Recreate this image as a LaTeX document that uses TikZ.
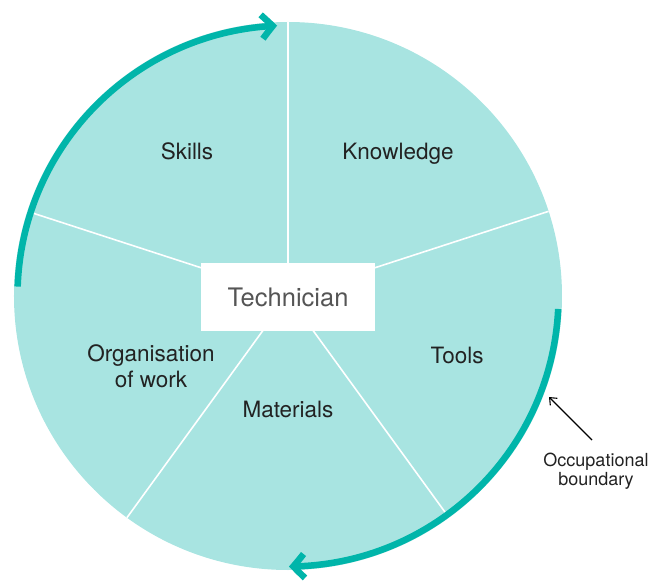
\documentclass[tikz,border=0pt]{standalone}
\usepackage{fontspec}
\setmainfont{TeX Gyre Heros}
\usetikzlibrary{arrows.meta,bending}
\definecolor{wheelfill}{RGB}{168,228,225}
\definecolor{boundteal}{RGB}{0,181,170}
\definecolor{labelgray}{RGB}{34,34,34}
\definecolor{centregray}{RGB}{85,85,85}
\begin{document}
\begin{tikzpicture}[x=1pt,y=1pt,
  divider/.style={draw=white,line width=1.6pt},
  sector/.style={text=labelgray,font=\fontsize{22.5}{26}\selectfont,align=center,inner sep=0pt},
  boundary/.style={draw=boundteal,line width=6.5pt,
    -{Straight Barb[length=11pt,width=24pt,bend]}},
  pointer/.style={draw=black,line width=1.1pt,-{Straight Barb[length=6pt,width=10pt]}}]
\useasboundingbox (-288,-288) rectangle (366,296);
% the wheel
\fill[wheelfill] (0,0) circle[radius=274];
\coordinate (c) at (0,0);
\foreach \a/\n in {90/a,18/b,-54/c2,-126/d,162/e}{
  \coordinate (r\n) at (\a:274);
  \draw[divider] (c) -- (r\n);
}
% occupational boundary arcs
\draw[boundary] (178:270.5) arc[start angle=178,end angle=92.3,radius=270.5];
\draw[boundary] (-2.75:270.5) arc[start angle=-2.75,end angle=-89.8,radius=270.5];
% centre box
\node[fill=white,minimum width=174pt,minimum height=68pt,inner sep=0pt,
  text=centregray,font=\fontsize{25.5}{30}\selectfont] (tech) at (0,-1) {Technician};
% sector labels, placed by their baselines
\node[sector,anchor=base] (skills) at (-101,136) {Skills};
\node[sector,anchor=base] (know) at (110,136) {Knowledge};
\node[sector,anchor=base] (tools) at (169,-67) {Tools};
\node[sector,anchor=base] (mat) at (0,-121) {Materials};
\node[sector] (org) at (-137,-70) {Organisation\\of work};
% annotation
\node[text=labelgray,font=\fontsize{18}{19.5}\selectfont,align=center,inner sep=0pt]
  (occ) at (308,-175) {Occupational\\boundary};
\coordinate (occtail) at (304,-144);
\coordinate (occtip) at (261,-101);
\draw[pointer] (occtail) -- (occtip);
\end{tikzpicture}
\end{document}
